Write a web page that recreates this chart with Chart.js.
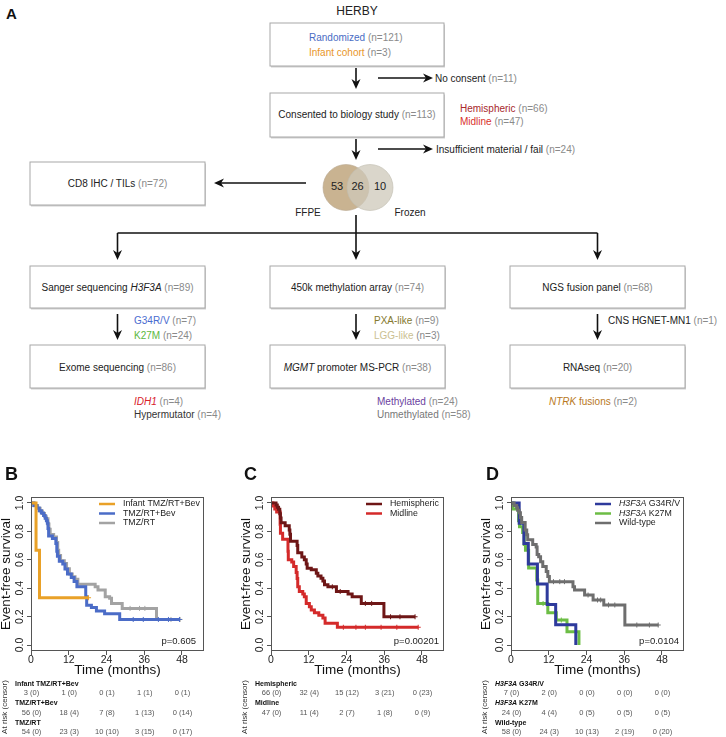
<!DOCTYPE html>
<html>
<head>
<meta charset="utf-8">
<script src="https://cdn.jsdelivr.net/npm/chart.js@4.4.1/dist/chart.umd.min.js"></script>
<style>
body { margin:0; background:#fff; width:726px; height:737px; position:relative; overflow:hidden; font-family:"Liberation Sans", Arial, sans-serif; }
#flow { position:absolute; left:0; top:0; }
#flow text { font-size:10px; dominant-baseline:central; fill:#222; }
.g { fill:#8a8a8a !important; }
canvas.km { position:absolute; top:455px; }
</style>
</head>
<body>
<svg id="flow" width="726" height="430">
  <text x="6" y="13" style="font-size:15px;font-weight:bold;fill:#111">A</text>
  <text x="357" y="11" text-anchor="middle" style="font-size:12px">HERBY</text>
  <g id="boxes"></g>
  <g id="arrows"></g>

  <text x="309" y="37"><tspan style="fill:#4a6cc4">Randomized</tspan><tspan class="g"> (n=121)</tspan></text>
  <text x="309" y="52"><tspan style="fill:#e8962a">Infant cohort</tspan><tspan class="g"> (n=3)</tspan></text>
  <text x="435" y="78">No consent<tspan class="g"> (n=11)</tspan></text>
  <text x="357" y="114" text-anchor="middle">Consented to biology study<tspan class="g"> (n=113)</tspan></text>
  <text x="460" y="108"><tspan style="fill:#a8282c">Hemispheric</tspan><tspan class="g"> (n=66)</tspan></text>
  <text x="460" y="121"><tspan style="fill:#d8302c">Midline</tspan><tspan class="g"> (n=47)</tspan></text>
  <text x="436" y="149">Insufficient material / fail<tspan class="g"> (n=24)</tspan></text>
  <text x="117.5" y="183" text-anchor="middle">CD8 IHC / TILs<tspan class="g"> (n=72)</tspan></text>

  <circle cx="346" cy="187.5" r="23" fill="rgb(188,160,118)" fill-opacity="0.8" stroke="#b8a890" stroke-width="0.6"/>
  <circle cx="370" cy="187.5" r="23" fill="rgb(205,200,185)" fill-opacity="0.75" stroke="#c0bcae" stroke-width="0.6"/>
  <text x="337" y="186" text-anchor="middle" style="font-size:11px">53</text>
  <text x="357.5" y="186" text-anchor="middle" style="font-size:11px">26</text>
  <text x="380" y="186" text-anchor="middle" style="font-size:11px">10</text>
  <text x="308" y="212" text-anchor="middle">FFPE</text>
  <text x="410" y="212" text-anchor="middle">Frozen</text>

  <text x="117.5" y="287" text-anchor="middle">Sanger sequencing <tspan font-style="italic">H3F3A</tspan><tspan class="g"> (n=89)</tspan></text>
  <text x="357.5" y="287" text-anchor="middle">450k methylation array<tspan class="g"> (n=74)</tspan></text>
  <text x="597.5" y="287" text-anchor="middle">NGS fusion panel<tspan class="g"> (n=68)</tspan></text>

  <text x="134" y="320"><tspan style="fill:#4a6cd0">G34R/V</tspan><tspan class="g"> (n=7)</tspan></text>
  <text x="134" y="335"><tspan style="fill:#5cb840">K27M</tspan><tspan class="g"> (n=24)</tspan></text>
  <text x="374" y="320"><tspan style="fill:#85792e">PXA-like</tspan><tspan class="g"> (n=9)</tspan></text>
  <text x="374" y="335"><tspan style="fill:#cbbf92">LGG-like</tspan><tspan class="g"> (n=3)</tspan></text>
  <text x="608" y="320">CNS HGNET-MN1<tspan class="g"> (n=1)</tspan></text>

  <text x="117.5" y="367" text-anchor="middle">Exome sequencing<tspan class="g"> (n=86)</tspan></text>
  <text x="357.5" y="367" text-anchor="middle"><tspan font-style="italic">MGMT</tspan> promoter MS-PCR<tspan class="g"> (n=38)</tspan></text>
  <text x="597.5" y="367" text-anchor="middle">RNAseq<tspan class="g"> (n=20)</tspan></text>

  <text x="134" y="401"><tspan font-style="italic" style="fill:#d8202a">IDH1</tspan><tspan class="g"> (n=4)</tspan></text>
  <text x="134" y="414"><tspan style="fill:#333">Hypermutator</tspan><tspan class="g"> (n=4)</tspan></text>
  <text x="377" y="401"><tspan style="fill:#6b3fa0">Methylated</tspan><tspan class="g"> (n=24)</tspan></text>
  <text x="377" y="414"><tspan style="fill:#777">Unmethylated</tspan><tspan class="g"> (n=58)</tspan></text>
  <text x="549" y="401"><tspan font-style="italic" style="fill:#b87822">NTRK</tspan><tspan style="fill:#b87822"> fusions</tspan><tspan class="g"> (n=2)</tspan></text>
</svg>

<canvas id="kmB" class="km" width="240" height="282" style="left:0px;width:240px;height:282px"></canvas>
<canvas id="kmC" class="km" width="240" height="282" style="left:240px;width:240px;height:282px"></canvas>
<canvas id="kmD" class="km" width="246" height="282" style="left:480px;width:246px;height:282px"></canvas>

<script>
// axes
const xTicks = [0, 12, 24, 36, 48];
const yTicks = [0, 0.2, 0.4, 0.6, 0.8, 1.0];

// B - treatment arm (time in months, event-free survival)
const bInfantT = [0, 1.6, 2.7, 18.3];
const bInfantS = [1, 0.667, 0.333, 0.333];
const bInfantC = [18.3];
const bBevT = [0, 0.9, 1.9, 2.6, 3.3, 4.0, 4.5, 4.9, 5.2, 5.4, 5.6, 6.8, 7.9, 8.2, 8.4, 9.0, 10.1, 10.8, 11.6, 12.8, 13.7, 14.6, 17.4, 17.7, 19.2, 20.8, 23.4, 28.2, 47.2];
const bBevS = [1, 0.982, 0.964, 0.946, 0.929, 0.911, 0.893, 0.875, 0.857, 0.821, 0.768, 0.75, 0.714, 0.661, 0.625, 0.589, 0.571, 0.536, 0.5, 0.476, 0.447, 0.41, 0.34, 0.28, 0.265, 0.24, 0.22, 0.18, 0.18];
const bBevC = [32.5, 35.7, 40.5, 43.7, 47.2];
const bRtT = [0, 1.0, 2.1, 2.9, 3.6, 4.3, 4.8, 5.4, 5.7, 6.1, 7.2, 8.1, 8.5, 8.8, 9.4, 10.6, 11.3, 12.2, 13.1, 14.0, 14.9, 20.4, 21.3, 23.6, 25.0, 25.6, 29.0, 39.9, 47.4];
const bRtS = [1, 0.981, 0.963, 0.944, 0.926, 0.907, 0.889, 0.852, 0.815, 0.778, 0.76, 0.722, 0.667, 0.63, 0.593, 0.574, 0.537, 0.5, 0.481, 0.463, 0.427, 0.41, 0.387, 0.34, 0.33, 0.293, 0.258, 0.18, 0.18];
const bRtC = [31.5, 34.5, 36.2, 44.5, 47.4];
const bNames = ['Infant TMZ/RT+Bev', 'TMZ/RT+Bev', 'TMZ/RT'];
const bRisk = [
  ['3 (0)', '1 (0)', '0 (1)', '1 (1)', '0 (1)'],
  ['56 (0)', '18 (4)', '7 (8)', '1 (13)', '0 (14)'],
  ['54 (0)', '23 (3)', '10 (10)', '3 (15)', '0 (17)']
];

// C - location
const cHemT = [0, 1.6, 2.0, 2.4, 2.8, 3.0, 3.2, 4.5, 5.8, 6.0, 6.2, 8.3, 8.5, 9.8, 10.6, 11.2, 11.5, 12.8, 14.4, 14.9, 15.9, 16.5, 17.0, 18.1, 20.8, 24.5, 25.8, 28.7, 35.9, 45.8];
const cHemS = [1, 0.985, 0.97, 0.955, 0.924, 0.894, 0.86, 0.84, 0.81, 0.78, 0.73, 0.70, 0.65, 0.62, 0.60, 0.57, 0.54, 0.53, 0.505, 0.486, 0.47, 0.45, 0.424, 0.41, 0.377, 0.36, 0.34, 0.293, 0.199, 0.199];
const cHemC = [19.5, 22, 30, 32, 38, 41, 45.8];
const cMidT = [0, 0.6, 1.2, 1.8, 2.9, 3.0, 3.7, 5.4, 5.5, 6.6, 7.2, 8.0, 8.3, 8.5, 9.0, 10.1, 10.6, 11.2, 12.2, 12.8, 13.8, 15.2, 16.5, 17.2, 21.1, 46.8];
const cMidS = [1, 0.979, 0.957, 0.936, 0.851, 0.787, 0.745, 0.66, 0.60, 0.585, 0.553, 0.51, 0.468, 0.41, 0.377, 0.36, 0.34, 0.293, 0.27, 0.246, 0.228, 0.21, 0.19, 0.153, 0.125, 0.125];
const cMidC = [23, 27, 30, 35, 40, 46.8];
const cNames = ['Hemispheric', 'Midline'];
const cRisk = [
  ['66 (0)', '32 (4)', '15 (12)', '3 (21)', '0 (23)'],
  ['47 (0)', '11 (4)', '2 (7)', '1 (8)', '0 (9)']
];

// D - H3F3A status
const dG34T = [0, 2.6, 4.1, 5.5, 8.4, 11.5, 14.2, 20.6];
const dG34S = [1, 0.857, 0.714, 0.571, 0.429, 0.286, 0.143, 0];
const dK27T = [0, 0.6, 2.4, 2.7, 3.7, 4.2, 4.6, 5.6, 8.2, 8.5, 11.7, 14.4, 17.8, 21.6];
const dK27S = [1, 0.958, 0.875, 0.833, 0.792, 0.708, 0.667, 0.542, 0.458, 0.292, 0.227, 0.176, 0.094, 0];
const dK27C = [10.2, 16];
const dWtT = [0, 1.0, 1.8, 2.1, 2.6, 3.0, 3.4, 4.5, 5.0, 5.3, 6.9, 8.0, 8.3, 8.8, 9.4, 10.1, 11.2, 11.7, 12.2, 19.7, 20.2, 23.4, 26.1, 29.5, 36.2, 46.8];
const dWtS = [1, 0.983, 0.966, 0.948, 0.931, 0.897, 0.862, 0.81, 0.776, 0.741, 0.707, 0.69, 0.638, 0.621, 0.586, 0.552, 0.517, 0.483, 0.446, 0.41, 0.387, 0.352, 0.317, 0.282, 0.141, 0.141];
const dWtC = [13.5, 15.5, 17, 24.5, 27.5, 28.5, 31, 33, 40, 44, 46.8];
const dNames = [['H3F3A', ' G34R/V'], ['H3F3A', ' K27M'], ['', 'Wild-type']];
const dRisk = [
  ['7 (0)', '2 (0)', '0 (0)', '0 (0)', '0 (0)'],
  ['24 (0)', '4 (4)', '0 (5)', '0 (5)', '0 (5)'],
  ['58 (0)', '24 (3)', '10 (13)', '2 (19)', '0 (20)']
];

const FONT = '"Liberation Sans", Arial, sans-serif';
Chart.defaults.font.family = FONT;

// ---------- flowchart boxes and arrows ----------
const svgNS = 'http://www.w3.org/2000/svg';
function el(parent, tag, attrs) {
  const e = document.createElementNS(svgNS, tag);
  for (const k in attrs) e.setAttribute(k, attrs[k]);
  document.getElementById(parent).appendChild(e);
  return e;
}
function box(x, y, w, h) {
  el('boxes', 'rect', {x: x + 1, y: y + 1.5, width: w, height: h, fill: '#cfcfcf'});
  el('boxes', 'rect', {x: x, y: y, width: w, height: h, fill: '#fff', stroke: '#a8a8a8', 'stroke-width': 1});
}
box(270, 23, 174, 43);
box(270, 93, 174, 44);
box(30, 162, 175, 43);
[30, 270, 510].forEach(x => { box(x, 266, 175, 42); box(x, 345, 175, 43); });

function down(x, y1, y2) {
  el('arrows', 'line', {x1: x, y1: y1, x2: x, y2: y2 - 6, stroke: '#111', 'stroke-width': 1.6});
  el('arrows', 'polygon', {points: `${x},${y2} ${x - 4.5},${y2 - 10} ${x},${y2 - 7} ${x + 4.5},${y2 - 10}`, fill: '#111'});
}
function horiz(y, x1, x2) {
  const d = x2 > x1 ? 1 : -1;
  el('arrows', 'line', {x1: x1, y1: y, x2: x2 - 6 * d, y2: y, stroke: '#111', 'stroke-width': 1.6});
  el('arrows', 'polygon', {points: `${x2},${y} ${x2 - 10 * d},${y - 4.5} ${x2 - 7 * d},${y} ${x2 - 10 * d},${y + 4.5}`, fill: '#111'});
}
down(356, 68, 89); horiz(78, 378, 433);
down(356, 139, 160); horiz(149, 378, 433);
horiz(183, 306, 214);
el('arrows', 'line', {x1: 356, y1: 215, x2: 356, y2: 233, stroke: '#111', 'stroke-width': 1.6});
el('arrows', 'line', {x1: 117.5, y1: 233, x2: 597.5, y2: 233, stroke: '#111', 'stroke-width': 1.6});
[117.5, 356, 597.5].forEach(x => { down(x, 233, 260); down(x, 314, 340); });

// ---------- Kaplan-Meier panels ----------
function steps(T, S) { return T.map((t, i) => ({x: t, y: S[i]})); }
function censor(T, S, C) {
  return C.map(c => {
    let k = 0;
    T.forEach((t, i) => { if (t <= c) k = i; });
    return {x: c, y: S[k]};
  });
}
function curve(T, S, color) {
  return {data: steps(T, S), borderColor: color, borderWidth: 3, stepped: true, pointRadius: 0, fill: false, borderCapStyle: 'butt'};
}
function marks(T, S, C, color) {
  return {data: censor(T, S, C), showLine: false, pointStyle: 'cross', pointRadius: 2.5, borderColor: color, borderWidth: 1};
}

function decor(p) {
  return {
    id: 'decor',
    afterDraw(chart) {
      const {ctx, chartArea: a, scales: {x, y}} = chart;
      ctx.save();
      ctx.strokeStyle = '#555'; ctx.lineWidth = 1;
      ctx.strokeRect(a.left + 0.5, a.top + 0.5, a.width - 1, a.height - 1);
      // panel letter
      ctx.fillStyle = '#111'; ctx.font = 'bold 18px ' + FONT;
      ctx.textAlign = 'left'; ctx.textBaseline = 'middle';
      ctx.fillText(p.letter, p.letterX, 20);
      // rotated y tick labels
      ctx.font = '10.5px ' + FONT; ctx.fillStyle = '#222'; ctx.textAlign = 'center';
      yTicks.forEach(v => {
        ctx.save();
        ctx.translate(a.left - 11, y.getPixelForValue(v));
        ctx.rotate(-Math.PI / 2);
        ctx.fillText(v.toFixed(1), 0, 0);
        ctx.restore();
      });
      // legend
      p.legend.forEach((it, i) => {
        const ly = 49 + i * 9.5;
        ctx.strokeStyle = it.color; ctx.lineWidth = 2.5;
        ctx.beginPath(); ctx.moveTo(p.lx, ly); ctx.lineTo(p.lx + 16, ly); ctx.stroke();
        let tx = p.lx + 24;
        ctx.fillStyle = '#222'; ctx.textAlign = 'left';
        it.parts.forEach((s, j) => {
          ctx.font = (j === 0 && it.italic ? 'italic ' : '') + '8.8px ' + FONT;
          ctx.fillText(s, tx, ly);
          tx += ctx.measureText(s).width;
        });
      });
      // p-value
      ctx.font = '9.5px ' + FONT; ctx.textAlign = 'right'; ctx.fillStyle = '#222';
      ctx.fillText(p.pval, p.pRight, 186);
      // at-risk table
      ctx.save();
      ctx.translate(5, 252); ctx.rotate(-Math.PI / 2);
      ctx.font = '8px ' + FONT; ctx.textAlign = 'center'; ctx.fillStyle = '#333';
      ctx.fillText('At risk (censor)', 0, 0);
      ctx.restore();
      p.names.forEach((nm, i) => {
        let tx = 15;
        ctx.textAlign = 'left'; ctx.fillStyle = '#111';
        nm.forEach((s, j) => {
          ctx.font = (j === 0 && p.italicNames ? 'italic ' : '') + 'bold 7px ' + FONT;
          ctx.fillText(s, tx, 229 + i * 19.5);
          tx += ctx.measureText(s).width;
        });
        ctx.font = '7.5px ' + FONT; ctx.fillStyle = '#555'; ctx.textAlign = 'center';
        p.risk[i].forEach((s, j) => ctx.fillText(s, x.getPixelForValue(xTicks[j]) + 0.5, 238 + i * 19.5));
      });
      ctx.restore();
    }
  };
}

function kmChart(id, datasets, p) {
  const cv = document.getElementById(id);
  const W = cv.width;
  const axisGrid = {display: true, drawOnChartArea: false, drawTicks: true, tickLength: 4, color: '#555'};
  return new Chart(cv, {
    type: 'line',
    data: {datasets: datasets},
    options: {
      responsive: false,
      animation: false,
      layout: {padding: {left: 0, top: 42, right: W - 204, bottom: 282 - 196 - 26}},
      plugins: {legend: {display: false}, tooltip: {enabled: false}},
      scales: {
        x: {
          type: 'linear', min: 0, max: 55,
          afterBuildTicks: s => { s.ticks = xTicks.map(v => ({value: v})); },
          afterFit: s => { s.height = 26; },
          grid: axisGrid, border: {display: false},
          ticks: {padding: -1, color: '#222', font: {size: 10.5}, maxRotation: 0, autoSkip: false},
          title: {display: true, text: 'Time (months)', color: '#111', font: {size: 13.5, lineHeight: 1}, padding: 0}
        },
        y: {
          min: -0.042, max: 1.042,
          afterBuildTicks: s => { s.ticks = yTicks.map(v => ({value: v})); },
          afterFit: s => { s.width = 31; },
          grid: axisGrid, border: {display: false},
          ticks: {display: false},
          title: {display: true, text: 'Event-free survival', color: '#111', font: {size: 13.5, lineHeight: 1}, padding: 0}
        }
      }
    },
    plugins: [decor(p)]
  });
}

const cOrange = '#e9a128', cBlue = '#4b6cc7', cGray = '#a3a3a3';
kmChart('kmB', [
  curve(bInfantT, bInfantS, cOrange), marks(bInfantT, bInfantS, bInfantC, cOrange),
  curve(bBevT, bBevS, cBlue), marks(bBevT, bBevS, bBevC, cBlue),
  curve(bRtT, bRtS, cGray), marks(bRtT, bRtS, bRtC, cGray)
], {
  letter: 'B', letterX: 5, lx: 99, pval: 'p=0.605', pRight: 196,
  legend: [
    {color: cOrange, parts: [bNames[0]]},
    {color: cBlue, parts: [bNames[1]]},
    {color: cGray, parts: [bNames[2]]}
  ],
  names: bNames.map(n => [n]), risk: bRisk
});

const cDark = '#6e1616', cRed = '#d42a2a';
kmChart('kmC', [
  curve(cHemT, cHemS, cDark), marks(cHemT, cHemS, cHemC, cDark),
  curve(cMidT, cMidS, cRed), marks(cMidT, cMidS, cMidC, cRed)
], {
  letter: 'C', letterX: 4, lx: 126, pval: 'p=0.00201', pRight: 199,
  legend: [
    {color: cDark, parts: [cNames[0]]},
    {color: cRed, parts: [cNames[1]]}
  ],
  names: cNames.map(n => [n]), risk: cRisk
});

const cNavy = '#2e3a9c', cGreen = '#6cbd45', cWt = '#6e6e6e';
kmChart('kmD', [
  curve(dWtT, dWtS, cWt), marks(dWtT, dWtS, dWtC, cWt),
  curve(dG34T, dG34S, cNavy),
  curve(dK27T, dK27S, cGreen), marks(dK27T, dK27S, dK27C, cGreen)
], {
  letter: 'D', letterX: 6, lx: 115, pval: 'p=0.0104', pRight: 199,
  legend: [
    {color: cNavy, parts: dNames[0], italic: true},
    {color: cGreen, parts: dNames[1], italic: true},
    {color: cWt, parts: [dNames[2][1]]}
  ],
  names: dNames, italicNames: true, risk: dRisk
});
</script>
</body>
</html>
